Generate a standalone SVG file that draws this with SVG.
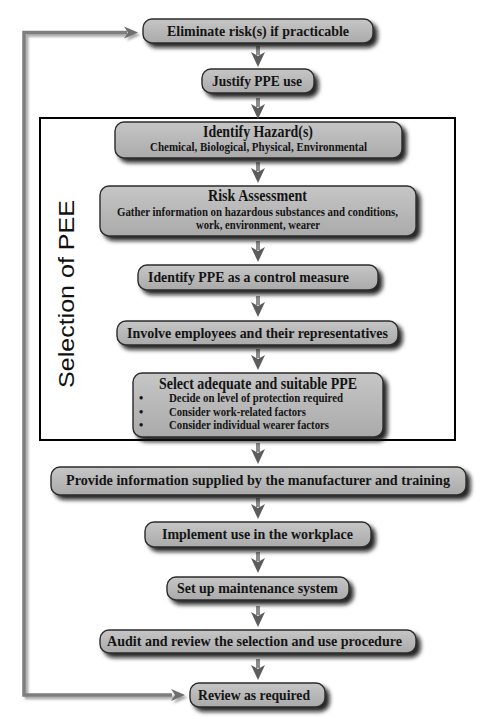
<svg xmlns="http://www.w3.org/2000/svg" width="488" height="719" viewBox="0 0 488 719">
<defs>
<linearGradient id="boxg" x1="0" y1="0" x2="0" y2="1">
<stop offset="0" stop-color="#c6c6c6"/>
<stop offset="1" stop-color="#aaaaaa"/>
</linearGradient>
<filter id="sh" x="-10%" y="-30%" width="130%" height="190%">
<feDropShadow dx="4" dy="4" stdDeviation="2" flood-color="#111" flood-opacity="0.9"/>
</filter>
<filter id="lsh" x="-20%" y="-20%" width="140%" height="140%">
<feDropShadow dx="2.5" dy="2.5" stdDeviation="1.2" flood-color="#9a9a9a" flood-opacity="0.9"/>
</filter>
<g id="darr">
<rect x="-2" y="0" width="4" height="9" fill="#8c8c8c"/>
<polygon points="-7,6 0,10 7,6 0,21" fill="#5c5c5c"/>
</g>
<style>
.box{fill:url(#boxg);stroke:#2b2b2b;stroke-width:1.4;filter:url(#sh)}
.t{font-family:"Liberation Serif","Times New Roman",serif;font-weight:bold;fill:#141414}
.h{font-size:15.5px}
.s{font-size:12px}
.lbl{font-family:"Liberation Sans",Arial,sans-serif;font-size:22px;fill:#111}
</style>
</defs>

<rect x="40" y="118" width="415" height="322" fill="none" stroke="#000" stroke-width="2"/>
<text class="lbl" transform="translate(74,388) rotate(-90)" textLength="188" lengthAdjust="spacingAndGlyphs">Selection of PEE</text>

<g id="connectors">
<g filter="url(#lsh)">
<path d="M127,32.5 H24 V695 H172" fill="none" stroke="#7e7e7e" stroke-width="3.5"/>
<polygon points="138,32.5 124,26.5 128,32.5 124,38.5" fill="#6e6e6e"/>
<polygon points="185,695 171,689 175,695 171,701" fill="#6e6e6e"/>
</g>
<use href="#darr" transform="translate(258,46)"/>
<use href="#darr" transform="translate(258,98)"/>
<use href="#darr" transform="translate(258,162)"/>
<use href="#darr" transform="translate(258,241)"/>
<use href="#darr" transform="translate(258,296)"/>
<use href="#darr" transform="translate(258,349)"/>
<use href="#darr" transform="translate(258,443)"/>
<use href="#darr" transform="translate(258,498)"/>
<use href="#darr" transform="translate(258,552)"/>
<use href="#darr" transform="translate(258,606)"/>
<use href="#darr" transform="translate(258,659)"/>
</g>

<g id="n1">
<rect class="box" x="143" y="19" width="230" height="24" rx="9"/>
<text class="t h" x="167" y="36" textLength="182" lengthAdjust="spacingAndGlyphs">Eliminate risk(s) if practicable</text>
</g>
<g id="n2">
<rect class="box" x="202" y="69" width="112" height="24" rx="9"/>
<text class="t h" x="212" y="86" textLength="90" lengthAdjust="spacingAndGlyphs">Justify PPE use</text>
</g>
<g id="n3">
<rect class="box" x="115" y="122" width="287" height="36" rx="9"/>
<text class="t" font-size="16.5" x="203" y="137" textLength="110" lengthAdjust="spacingAndGlyphs">Identify Hazard(s)</text>
<text class="t s" x="150" y="151" textLength="217" lengthAdjust="spacingAndGlyphs">Chemical, Biological,  Physical, Environmental</text>
</g>
<g id="n4">
<rect class="box" x="100" y="186" width="316" height="50" rx="9"/>
<text class="t" font-size="16.5" x="208" y="201" textLength="99" lengthAdjust="spacingAndGlyphs">Risk Assessment</text>
<text class="t s" x="117" y="216" textLength="281" lengthAdjust="spacingAndGlyphs">Gather information on hazardous substances and conditions,</text>
<text class="t s" x="196" y="229" textLength="124" lengthAdjust="spacingAndGlyphs">work, environment, wearer</text>
</g>
<g id="n5">
<rect class="box" x="138" y="265" width="240" height="25" rx="9"/>
<text class="t h" x="148" y="282" textLength="201" lengthAdjust="spacingAndGlyphs">Identify PPE as a control measure</text>
</g>
<g id="n6">
<rect class="box" x="117" y="321" width="281" height="24" rx="9"/>
<text class="t h" x="127" y="338" textLength="261" lengthAdjust="spacingAndGlyphs">Involve employees and their representatives</text>
</g>
<g id="n7">
<rect class="box" x="133" y="373" width="250" height="64" rx="9"/>
<text class="t" font-size="16" x="159" y="389" textLength="198" lengthAdjust="spacingAndGlyphs">Select adequate and suitable PPE</text>
<text class="t s" x="139" y="402">•</text>
<text class="t s" x="169" y="402" textLength="174" lengthAdjust="spacingAndGlyphs">Decide on level of protection required</text>
<text class="t s" x="139" y="416">•</text>
<text class="t s" x="169" y="416" textLength="137" lengthAdjust="spacingAndGlyphs">Consider work-related factors</text>
<text class="t s" x="139" y="429">•</text>
<text class="t s" x="169" y="429" textLength="160" lengthAdjust="spacingAndGlyphs">Consider individual wearer factors</text>
</g>
<g id="n8">
<rect class="box" x="51" y="467" width="415" height="28" rx="9"/>
<text class="t h" x="66" y="485" textLength="384" lengthAdjust="spacingAndGlyphs">Provide information supplied by the manufacturer  and training</text>
</g>
<g id="n9">
<rect class="box" x="145" y="522" width="226" height="25" rx="9"/>
<text class="t h" x="162" y="539" textLength="191" lengthAdjust="spacingAndGlyphs">Implement use in the workplace</text>
</g>
<g id="n10">
<rect class="box" x="167" y="577" width="182" height="23" rx="9"/>
<text class="t h" x="177" y="593" textLength="161" lengthAdjust="spacingAndGlyphs">Set up maintenance system</text>
</g>
<g id="n11">
<rect class="box" x="100" y="630" width="316" height="23" rx="9"/>
<text class="t h" x="107" y="646" textLength="295" lengthAdjust="spacingAndGlyphs">Audit and review the selection and use procedure</text>
</g>
<g id="n12">
<rect class="box" x="190" y="683" width="135" height="24" rx="9"/>
<text class="t h" x="198" y="700" textLength="112" lengthAdjust="spacingAndGlyphs">Review as required</text>
</g>
</svg>
